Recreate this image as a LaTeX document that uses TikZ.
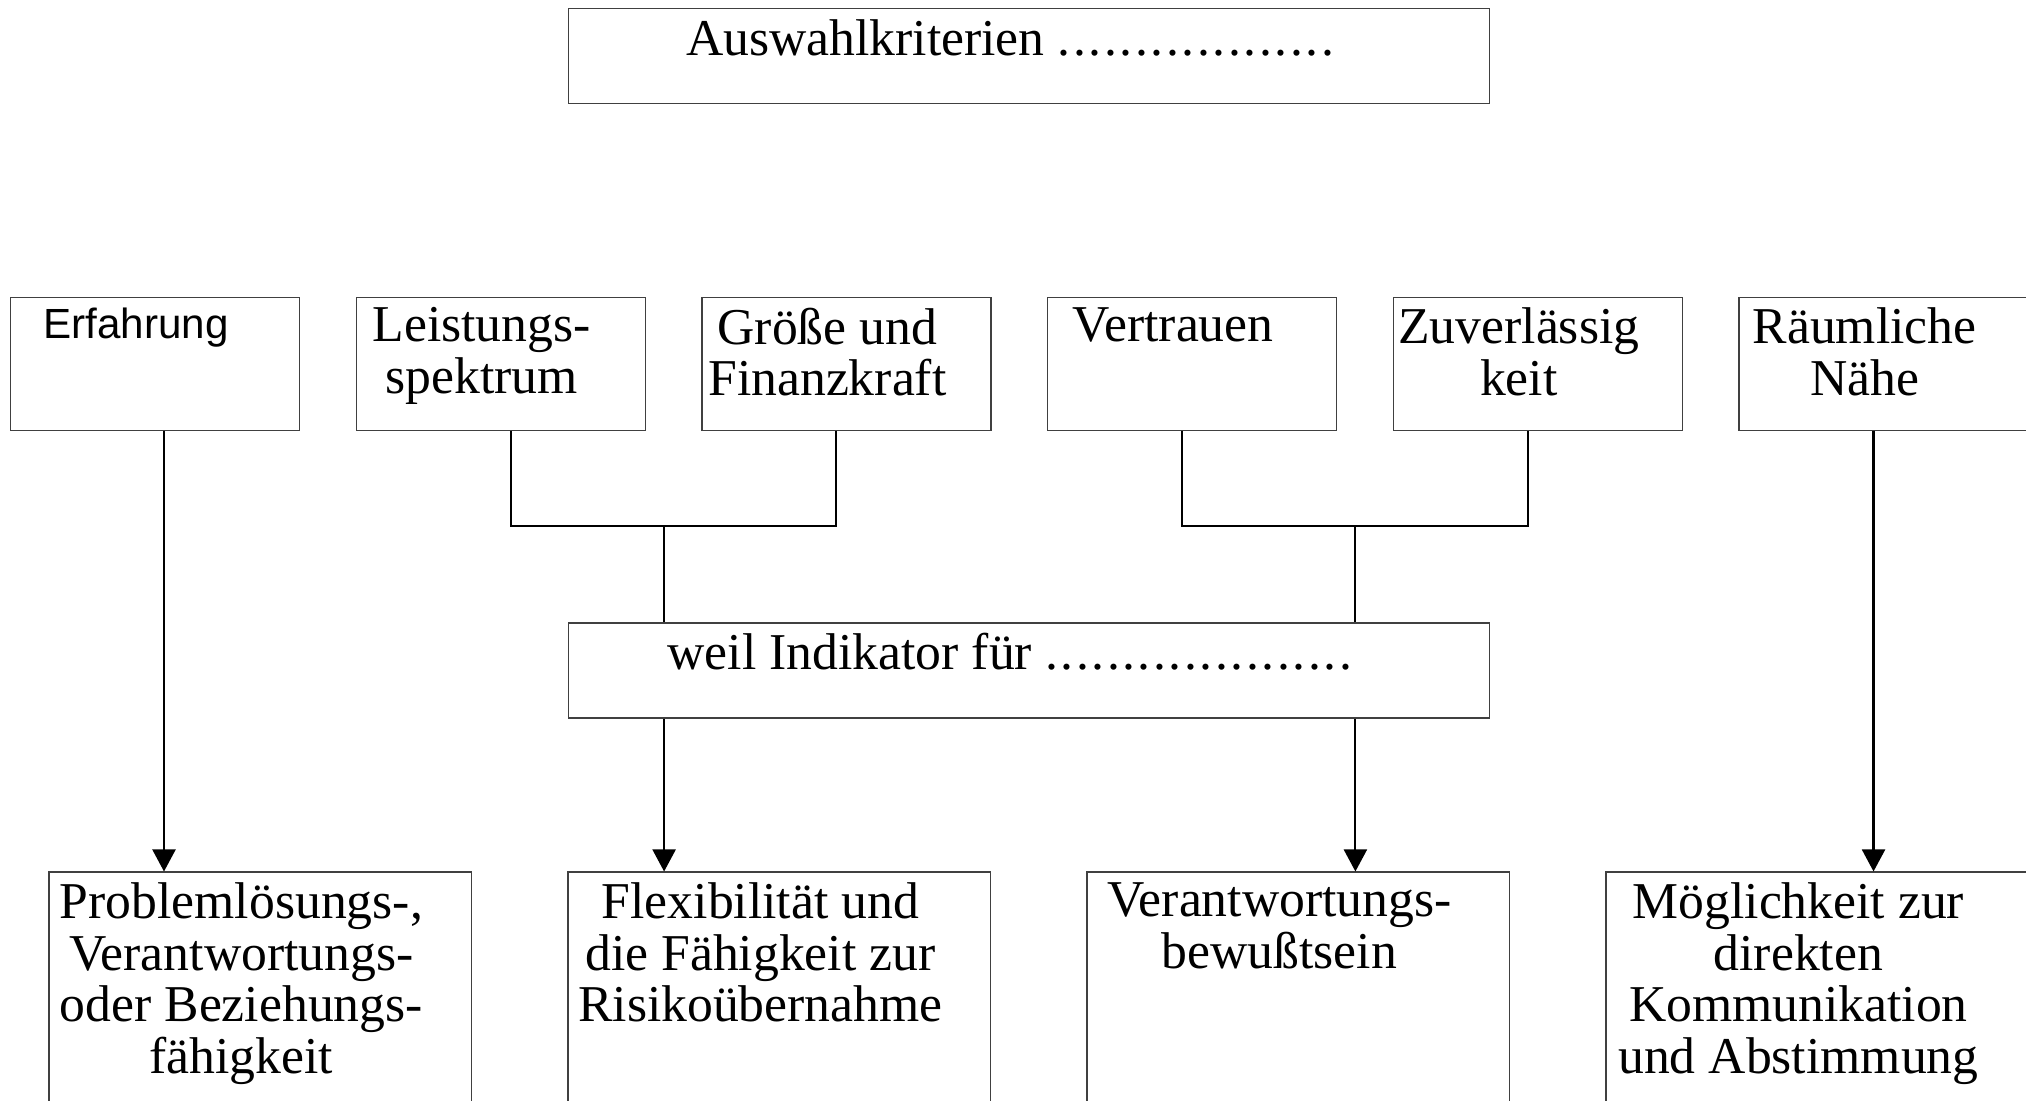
\documentclass[tikz,border=0pt]{standalone}
\usepackage{fontspec}
\setmainfont{Liberation Serif}
\newfontfamily\arialfont{Liberation Sans}
\usetikzlibrary{arrows.meta,positioning}

\begin{document}
\begin{tikzpicture}[
  font=\fontsize{14.7}{14.66}\selectfont,
  box/.style={draw=black!75, line width=0.4pt, minimum width=2.89cm, minimum height=1.33cm, inner sep=0pt},
  widebox/.style={box, minimum width=9.21cm, minimum height=0.95cm},
  goalbox/.style={box, minimum width=4.225cm, minimum height=3cm},
  txt/.style={anchor=north, align=center, inner sep=0pt, xshift=-1.9mm, yshift=-1.05mm},
  line/.style={line width=0.6pt},
  arrow/.style={line, -{Triangle[length=2.2mm, width=2.3mm]}}
]
\path[use as bounding box, clip] (0,0) rectangle (20.26,-11.01);

% top and middle boxes
\node[widebox] (top) at (10.29,-0.562) {};
\node[widebox] (mid) at (10.29,-6.706) {};
\node[txt] (top-t) at (top.north) {Auswahlkriterien {\addfontfeature{LetterSpace=5}..................}};
\node[txt] (mid-t) at (mid.north) {weil Indikator für {\addfontfeature{LetterSpace=5}....................}};

% criteria
\node[box] (erf) at (1.55,-3.6375) {};
\node[box, right=5.53mm of erf] (lei) {};
\node[box, right=5.53mm of lei] (gro) {};
\node[box, right=5.53mm of gro] (ver) {};
\node[box, right=5.53mm of ver] (zuv) {};
\node[box, right=5.53mm of zuv] (rau) {};
\node[txt, font=\arialfont\fontsize{12}{14}\selectfont] (erf-t) at (erf.north) {Erfahrung};
\node[txt] (lei-t) at (lei.north) {Leistungs-\\spektrum};
\node[txt] (gro-t) at (gro.north) {Größe und\\Finanzkraft};
\node[txt] (ver-t) at (ver.north) {Vertrauen};
\node[txt] (zuv-t) at (zuv.north) {Zuverlässig\\keit};
\node[txt] (rau-t) at (rau.north) {Räumliche\\Nähe};

% what they indicate
\node[goalbox] (prob) at (2.604,-10.222) {};
\node[goalbox, right=9.51mm of prob] (flex) {};
\node[goalbox, right=9.51mm of flex] (bew) {};
\node[goalbox, right=9.51mm of bew] (komm) {};
\node[txt] (prob-t) at (prob.north) {Problemlösungs-,\\Verantwortungs-\\oder Beziehungs-\\fähigkeit};
\node[txt] (flex-t) at (flex.north) {Flexibilität und\\die Fähigkeit zur\\Risikoübernahme};
\node[txt] (bew-t) at (bew.north) {Verantwortungs-\\bewußtsein};
\node[txt] (komm-t) at (komm.north) {Möglichkeit zur\\direkten\\Kommunikation\\und Abstimmung};

% connectors
\coordinate (j1) at (6.641,-5.259);
\coordinate (j2) at (13.554,-5.259);
\draw[arrow] ([xshift=0.9mm]erf.south) -- ([xshift=0.9mm]erf.south |- prob.north);
\draw[line] ([xshift=1mm]lei.south) |- (j1) -| ([xshift=-1mm]gro.south);
\draw[line] (j1) -- (j1 |- mid.north);
\draw[arrow] (j1 |- mid.south) -- (j1 |- flex.north);
\draw[line] ([xshift=-1mm]ver.south) |- (j2) -| ([xshift=-1mm]zuv.south);
\draw[line] (j2) -- (j2 |- mid.north);
\draw[arrow] (j2 |- mid.south) -- (j2 |- bew.north);
\draw[arrow] ([xshift=-1mm]rau.south) -- ([xshift=-1mm]rau.south |- komm.north);
\end{tikzpicture}
\end{document}
